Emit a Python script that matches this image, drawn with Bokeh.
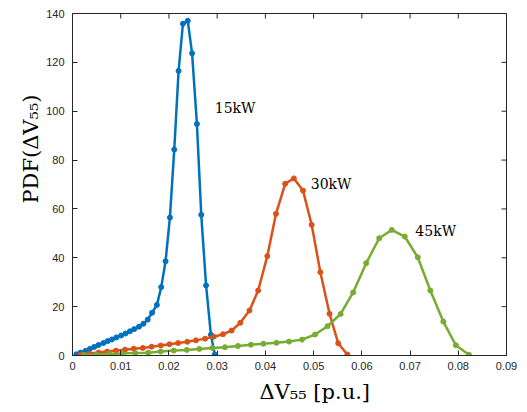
import math
from bokeh.plotting import figure
from bokeh.models import LinearAxis, FixedTicker, Label, Range1d, Title
from bokeh.embed import file_html
from bokeh.resources import INLINE

# ---- data ----
x15 = [0.0008, 0.0017, 0.0027, 0.0036, 0.0045, 0.0054, 0.0064, 0.0073, 0.0082, 0.0091,
       0.0101, 0.0110, 0.0119, 0.0128, 0.0138, 0.0147, 0.0156, 0.0165, 0.0175, 0.0184,
       0.0193, 0.0202, 0.0211, 0.0220, 0.0229, 0.0239, 0.0248, 0.0258, 0.0267, 0.0277,
       0.0287, 0.0295]
y15 = [0.5, 1.2, 1.9, 2.7, 3.5, 4.3, 5.1, 5.9, 6.6, 7.4,
       8.2, 9.0, 9.9, 10.8, 11.8, 13.0, 14.7, 17.5, 20.7, 28.0,
       38.6, 56.5, 84.3, 116.5, 135.8, 137.0, 123.7, 94.8, 57.6, 28.7,
       8.5, 0.4]

x30 = [0.0017, 0.0035, 0.0054, 0.0072, 0.0090, 0.0109, 0.0127, 0.0146, 0.0164, 0.0183,
       0.0201, 0.0219, 0.0238, 0.0256, 0.0275, 0.0293, 0.0312, 0.0330, 0.0348, 0.0367,
       0.0385, 0.0404, 0.0422, 0.0441, 0.0459, 0.0478, 0.0496, 0.0514, 0.0533, 0.0551,
       0.0570]
y30 = [0.4, 0.8, 1.2, 1.6, 2.0, 2.4, 2.8, 3.1, 3.6, 4.1,
       4.6, 5.1, 5.6, 6.2, 6.9, 7.7, 8.7, 10.2, 13.4, 18.4,
       26.6, 40.7, 58.0, 70.3, 72.5, 67.5, 53.5, 34.1, 17.1, 5.0,
       0.4]

x45 = [0.0024, 0.0050, 0.0077, 0.0104, 0.0130, 0.0157, 0.0183, 0.0210, 0.0237, 0.0263,
       0.0290, 0.0316, 0.0343, 0.0370, 0.0396, 0.0423, 0.0449, 0.0476, 0.0503, 0.0529,
       0.0556, 0.0582, 0.0609, 0.0636, 0.0662, 0.0689, 0.0716, 0.0742, 0.0769, 0.0795,
       0.0822]
y45 = [0.2, 0.4, 0.6, 0.8, 1.0, 1.1, 1.6, 2.0, 2.3, 2.7,
       3.1, 3.4, 3.9, 4.4, 4.8, 5.2, 5.7, 6.5, 8.6, 12.0,
       17.0, 25.8, 37.8, 48.0, 51.4, 48.7, 40.2, 26.6, 13.9, 4.2,
       0.3]

series_labels = ["15kW", "30kW", "45kW"]
label_pos_x = [0.0295, 0.0494, 0.0711]
label_pos_y = [101.5, 70.4, 50.8]
colors = ["#0072BD", "#D95319", "#77AC30"]

x_ticks = [0, 0.01, 0.02, 0.03, 0.04, 0.05, 0.06, 0.07, 0.08, 0.09]
x_tick_labels = ["0", "0.01", "0.02", "0.03", "0.04", "0.05", "0.06", "0.07", "0.08", "0.09"]
y_ticks = [0, 20, 40, 60, 80, 100, 120, 140]

X_MIN, X_MAX, Y_MIN, Y_MAX = 0, 0.09, 0, 140
W, H = 527, 412
BL, BR, BT, BB = 72, 21, 13, 57

# ---- figure ----
p = figure(width=W, height=H, output_backend="svg", toolbar_location=None,
           x_range=Range1d(X_MIN, X_MAX), y_range=Range1d(Y_MIN, Y_MAX),
           x_axis_location=None, y_axis_location=None,
           min_border_left=BL, min_border_right=BR, min_border_top=BT, min_border_bottom=BB)
p.xgrid.visible = False
p.ygrid.visible = False
p.outline_line_color = "#262626"
p.outline_line_width = 1
p.background_fill_color = "white"
p.border_fill_color = "white"

axis_color = "#262626"

def style_axis(ax, standoff):
    ax.axis_line_color = axis_color
    ax.major_tick_line_color = axis_color
    ax.major_tick_in = 5
    ax.major_tick_out = 0
    ax.minor_tick_line_color = None
    ax.major_label_text_font = "Liberation Sans"
    ax.major_label_text_font_size = "11px"
    ax.major_label_text_color = axis_color
    ax.major_label_standoff = standoff

xb = LinearAxis(ticker=FixedTicker(ticks=x_ticks),
                major_label_overrides={t: l for t, l in zip(x_ticks, x_tick_labels)})
style_axis(xb, 6)
p.add_layout(xb, "below")

yl = LinearAxis(ticker=FixedTicker(ticks=y_ticks))
style_axis(yl, 8)
p.add_layout(yl, "left")

# inward ticks on the top and right edges of the box (5 px long)
frame_w = W - BL - BR
frame_h = H - BT - BB
tx = 5 * (X_MAX - X_MIN) / frame_w
ty = 5 * (Y_MAX - Y_MIN) / frame_h
p.segment(x0=x_ticks, y0=[Y_MAX] * len(x_ticks), x1=x_ticks, y1=[Y_MAX - ty] * len(x_ticks),
          line_color=axis_color, line_width=1)
p.segment(x0=[X_MAX] * len(y_ticks), y0=y_ticks, x1=[X_MAX - tx] * len(y_ticks), y1=y_ticks,
          line_color=axis_color, line_width=1)

for xs, ys, c in [(x15, y15, colors[0]), (x30, y30, colors[1]), (x45, y45, colors[2])]:
    p.line(xs, ys, line_color=c, line_width=2.5)
    p.scatter(xs, ys, marker="circle", size=5, fill_color=c, line_color=c)

for t, lx, ly in zip(series_labels, label_pos_x, label_pos_y):
    p.add_layout(Label(x=lx, y=ly, text=t, text_font="DejaVu Serif", text_font_size="14px",
                       text_color="black", text_align="left", text_baseline="middle"))

# axis titles placed as titles so they can sit off-centre like the reference
p.add_layout(Title(text="ΔV₅₅ [p.u.]", align="left", offset=187, standoff=11,
                   text_font="DejaVu Serif", text_font_size="21px",
                   text_font_style="normal", text_color="black"), "below")
p.add_layout(Title(text="PDF(ΔV₅₅)", align="right", offset=81, standoff=2,
                   text_font="DejaVu Serif", text_font_size="21px",
                   text_font_style="normal", text_color="black"), "left")

open("out.html", "w").write(file_html(p, INLINE))
